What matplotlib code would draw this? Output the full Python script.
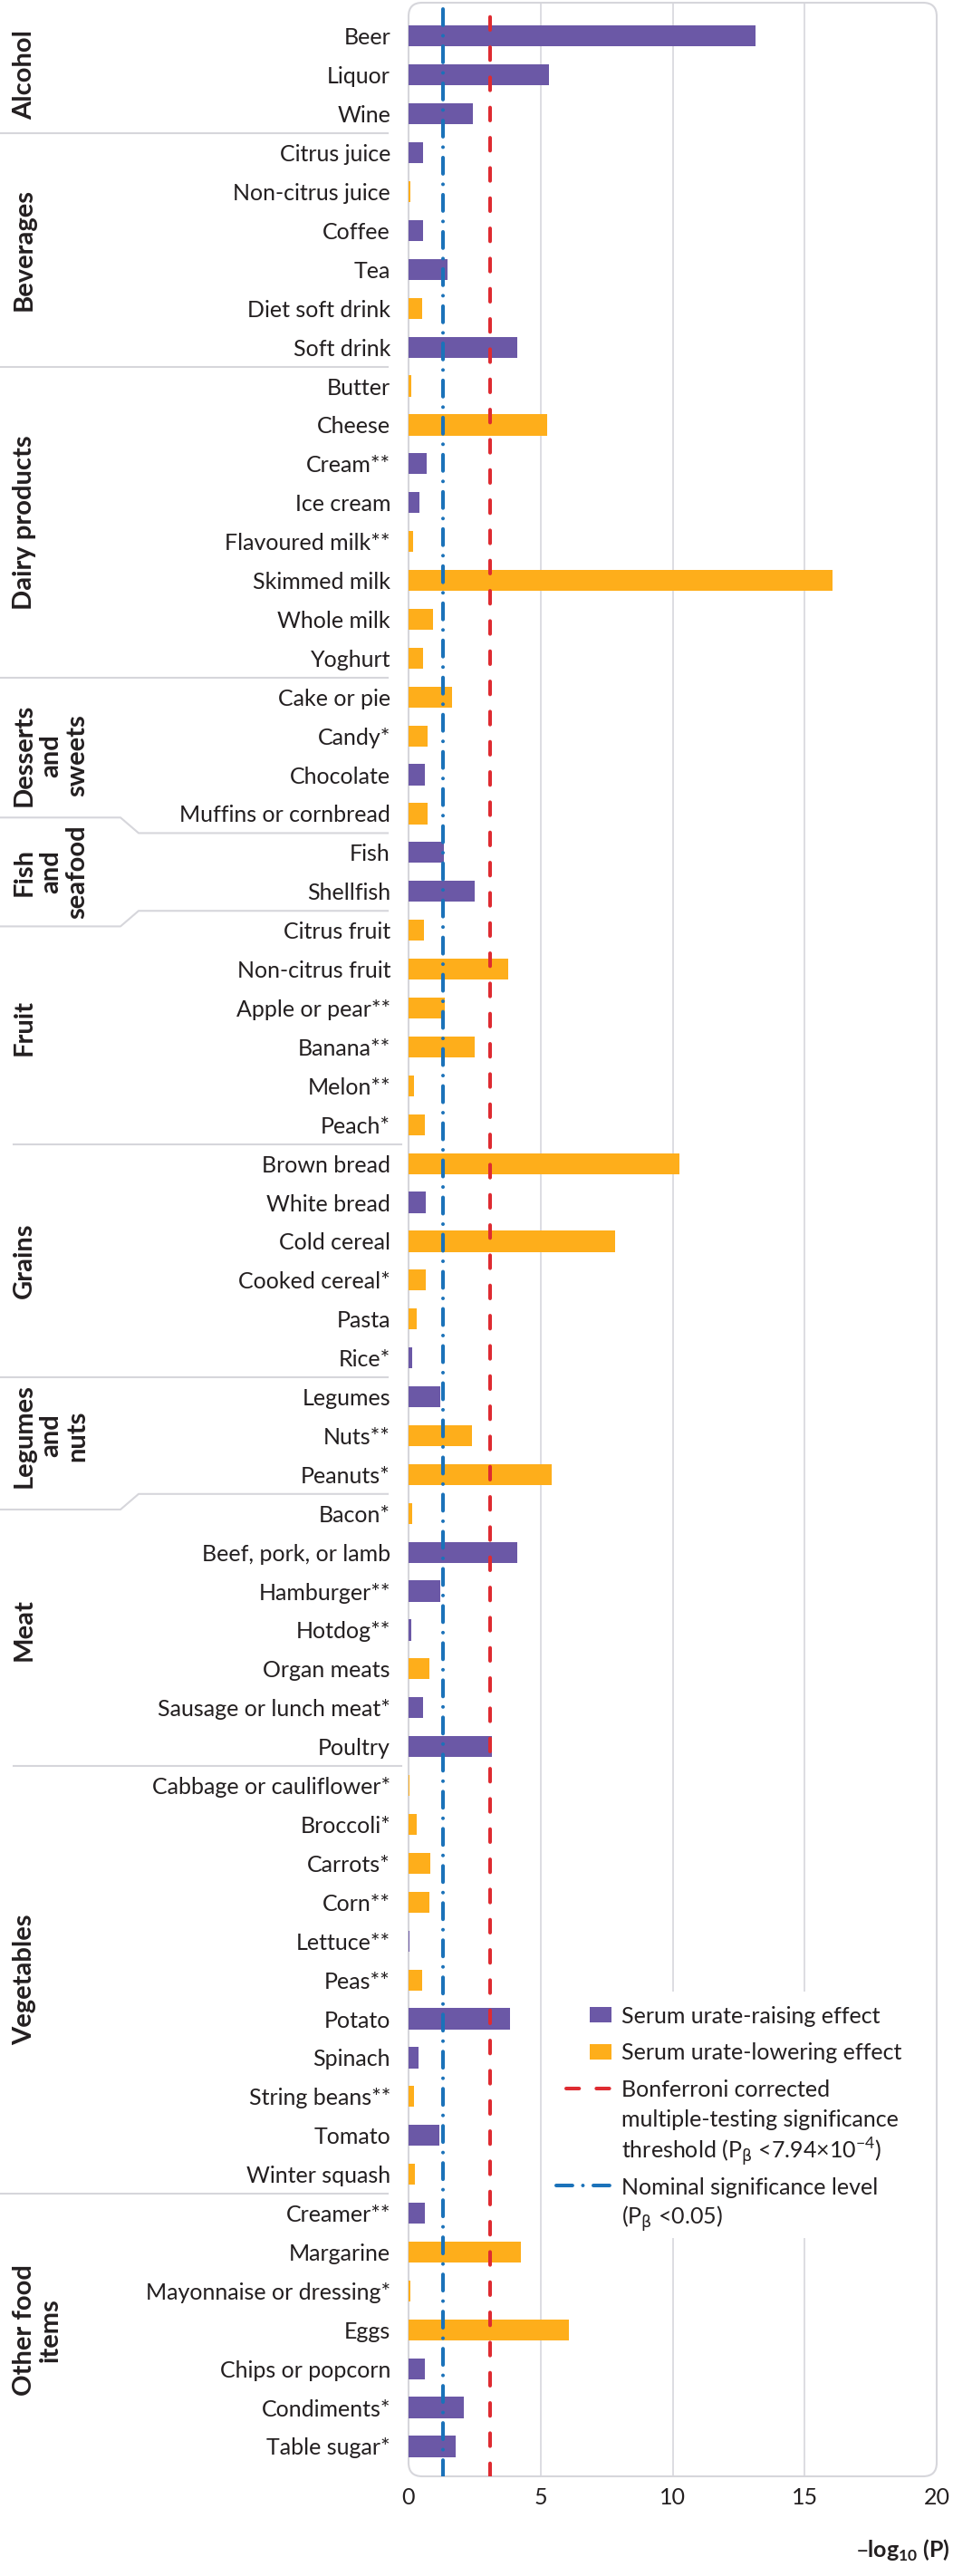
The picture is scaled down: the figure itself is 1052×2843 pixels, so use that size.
import numpy as np
import matplotlib.pyplot as plt
import matplotlib.patches as mpatches
from matplotlib.lines import Line2D
from matplotlib.transforms import blended_transform_factory

plt.rcParams['font.family'] = ['Lato', 'DejaVu Sans']
plt.rcParams['lines.scale_dashes'] = False

W, H = 1052, 2843

# food groups (label lines) and how many items in each
group_lines = [['Alcohol'], ['Beverages'], ['Dairy products'], ['Desserts', 'and', 'sweets'],
               ['Fish', 'and', 'seafood'], ['Fruit'], ['Grains'], ['Legumes', 'and', 'nuts'],
               ['Meat'], ['Vegetables'], ['Other food', 'items']]
group_sizes = [3, 6, 8, 4, 2, 6, 6, 3, 7, 11, 7]

items = ['Beer', 'Liquor', 'Wine',
         'Citrus juice', 'Non-citrus juice', 'Coffee', 'Tea', 'Diet soft drink', 'Soft drink',
         'Butter', 'Cheese', 'Cream**', 'Ice cream', 'Flavoured milk**', 'Skimmed milk', 'Whole milk', 'Yoghurt',
         'Cake or pie', 'Candy*', 'Chocolate', 'Muffins or cornbread',
         'Fish', 'Shellfish',
         'Citrus fruit', 'Non-citrus fruit', 'Apple or pear**', 'Banana**', 'Melon**', 'Peach*',
         'Brown bread', 'White bread', 'Cold cereal', 'Cooked cereal*', 'Pasta', 'Rice*',
         'Legumes', 'Nuts**', 'Peanuts*',
         'Bacon*', 'Beef, pork, or lamb', 'Hamburger**', 'Hotdog**', 'Organ meats', 'Sausage or lunch meat*', 'Poultry',
         'Cabbage or cauliflower*', 'Broccoli*', 'Carrots*', 'Corn**', 'Lettuce**', 'Peas**', 'Potato', 'Spinach',
         'String beans**', 'Tomato', 'Winter squash',
         'Creamer**', 'Margarine', 'Mayonnaise or dressing*', 'Eggs', 'Chips or popcorn', 'Condiments*', 'Table sugar*']

neglogp = [13.13, 5.32, 2.43,
           0.56, 0.06, 0.54, 1.47, 0.51, 4.10,
           0.11, 5.26, 0.68, 0.40, 0.16, 16.05, 0.91, 0.54,
           1.63, 0.72, 0.63, 0.72,
           1.33, 2.51,
           0.58, 3.76, 1.36, 2.51, 0.22, 0.61,
           10.27, 0.65, 7.83, 0.65, 0.30, 0.13,
           1.21, 2.39, 5.43,
           0.13, 4.12, 1.19, 0.11, 0.78, 0.54, 3.17,
           0.05, 0.30, 0.82, 0.78, 0.05, 0.50, 3.84, 0.39, 0.22, 1.15, 0.25,
           0.61, 4.25, 0.08, 6.06, 0.61, 2.08, 1.78]

# R = serum urate-raising, L = serum urate-lowering
effect = ['R', 'R', 'R',
          'R', 'L', 'R', 'R', 'L', 'R',
          'L', 'L', 'R', 'R', 'L', 'L', 'L', 'L',
          'L', 'L', 'R', 'L',
          'R', 'R',
          'L', 'L', 'L', 'L', 'L', 'L',
          'L', 'R', 'L', 'L', 'L', 'R',
          'R', 'L', 'L',
          'L', 'R', 'R', 'R', 'L', 'R', 'R',
          'L', 'L', 'L', 'L', 'R', 'L', 'R', 'R', 'L', 'R', 'L',
          'R', 'L', 'L', 'L', 'R', 'R', 'R']

x_ticks = [0, 5, 10, 15, 20]
grid_at = [5, 10, 15]
bonferroni = -np.log10(7.94e-4)
nominal = -np.log10(0.05)

purple = '#6b58a6'
orange = '#feae1b'
red = '#de2b31'
blue = '#1b72b9'
gray = '#d6d6db'
txt = '#231f20'

fig = plt.figure(figsize=(W / 100, H / 100), dpi=100)
ax = fig.add_axes([451 / W, 110 / H, 583 / W, 2730 / H])

ypos = np.arange(len(items))
cols = [purple if e == 'R' else orange for e in effect]
ax.barh(ypos, neglogp, height=0.54, color=cols, zorder=2)

ax.set_xlim(0, 20)
ax.set_ylim(62.77, -0.86)
ax.set_yticks(ypos)
ax.set_yticklabels(items)
ax.set_xticks(x_ticks)
ax.set_xticklabels([str(t) for t in x_ticks])
ax.tick_params(axis='y', length=0, pad=14.4, labelsize=18, labelcolor=txt)
ax.tick_params(axis='x', length=0, pad=9, labelsize=18, labelcolor=txt)
for s in ax.spines.values():
    s.set_visible(False)

for g in grid_at:
    ax.axvline(g, color='#dadadf', lw=1.3, zorder=0.5)

frame = mpatches.FancyBboxPatch((4.51, 1.10), 5.83, 27.30,
                                boxstyle='round,pad=0,rounding_size=0.15',
                                transform=fig.dpi_scale_trans, facecolor='none',
                                edgecolor=gray, lw=1.5, clip_on=False, zorder=0.6)
ax.add_patch(frame)

red_ls = (0, (10.3, 13.7))
blue_ls = (0, (12.9, 8.3, 0.01, 8.3))
ax.axvline(bonferroni, color=red, lw=2.9, ls=red_ls, dash_capstyle='round', zorder=3)
ax.axvline(nominal, color=blue, lw=2.9, ls=blue_ls, dash_capstyle='round', zorder=3)

# group labels and separators at the left
tr = blended_transform_factory(fig.transFigure, ax.transData)
baselines = [35, 64, 93]
starts = np.cumsum([0] + group_sizes[:-1])
for k, (lines, n) in enumerate(zip(group_lines, group_sizes)):
    yc = starts[k] + (n - 1) / 2
    for j, line in enumerate(lines):
        fig.text(baselines[j] / W, yc, line, transform=tr, rotation=90, rotation_mode='anchor',
                 ha='center', va='baseline', fontsize=21, fontweight='bold', color=txt)

wide = [len(l) == 3 for l in group_lines]
for k in range(1, len(group_sizes)):
    b = starts[k] - 0.5
    x0, x1 = 0, 428
    if k in (6, 9):
        x0, x1 = 15, 443
    if wide[k] and not wide[k - 1]:
        xs = [x0, x1]
        ys = [b, b]
    elif wide[k]:
        xs = [x0, 133, 153, x1]
        ys = [b - 0.4, b - 0.4, b, b]
    elif wide[k - 1] and k - 1 != 3:
        xs = [x0, 133, 153, x1]
        ys = [b + 0.4, b + 0.4, b, b]
    else:
        xs = [x0, x1]
        ys = [b, b]
    fig.add_artist(Line2D(np.array(xs) / W, ys, transform=tr, color=gray, lw=1.5))

# legend, drawn by hand
def fx(p):
    return p / W

def fy(p):
    return 1 - p / H

fig.add_artist(mpatches.Rectangle((fx(605), fy(2470)), fx(423), 272 / H, transform=fig.transFigure,
                                  facecolor='white', edgecolor='none', zorder=1))
fig.add_artist(mpatches.Rectangle((fx(651), fy(2232)), fx(24), 17 / H, transform=fig.transFigure,
                                  facecolor=purple, edgecolor='none', zorder=2))
fig.add_artist(mpatches.Rectangle((fx(651), fy(2273)), fx(24), 17 / H, transform=fig.transFigure,
                                  facecolor=orange, edgecolor='none', zorder=2))
fig.add_artist(Line2D([fx(625), fx(676)], [fy(2305), fy(2305)], transform=fig.transFigure,
                      color=red, lw=2.9, ls=red_ls, dash_capstyle='round', zorder=2))
fig.add_artist(Line2D([fx(614), fx(676)], [fy(2412), fy(2412)], transform=fig.transFigure,
                      color=blue, lw=2.9, ls=blue_ls, dash_capstyle='round', zorder=2))

legend_lines = [('Serum urate-raising effect', 2233),
                ('Serum urate-lowering effect', 2273),
                ('Bonferroni corrected', 2314),
                ('multiple-testing significance', 2347),
                (r'threshold (P$_{\mathrm{\beta}}$ <7.94×10$^{\mathregular{-4}}$)', 2382),
                ('Nominal significance level', 2422),
                (r'(P$_{\mathrm{\beta}}$ <0.05)', 2455)]
for s, yb in legend_lines:
    fig.text(fx(686), fy(yb), s, ha='left', va='baseline', fontsize=18, color=txt, zorder=3)

fig.text(fx(1049), fy(2815), r'–log$_{\mathregular{10}}$ (P)', ha='right', va='center',
         fontsize=18, fontweight='bold', color=txt)

fig.savefig('out.png', dpi=100, facecolor='white')
